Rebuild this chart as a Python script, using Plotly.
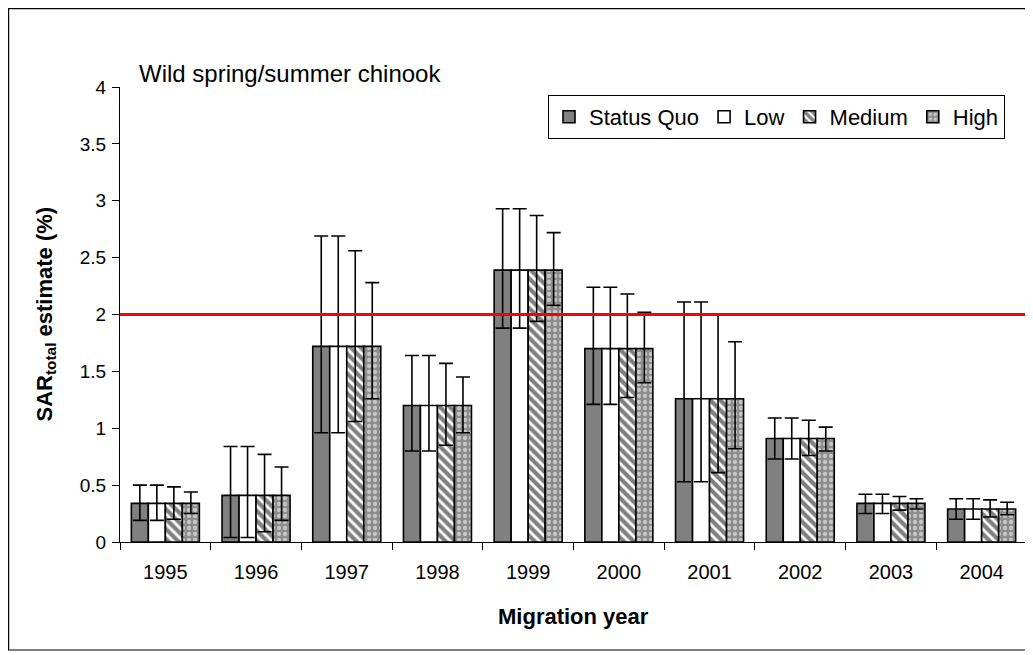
import plotly.graph_objects as go

years = ["1995", "1996", "1997", "1998", "1999", "2000", "2001", "2002", "2003", "2004"]
sar = [0.34, 0.41, 1.72, 1.20, 2.39, 1.70, 1.26, 0.91, 0.34, 0.29]

# upper / lower limits of the error bars, one pair per scenario
sq_hi = [0.50, 0.84, 2.69, 1.64, 2.93, 2.24, 2.11, 1.09, 0.42, 0.38]
sq_lo = [0.19, 0.04, 0.96, 0.80, 1.88, 1.21, 0.53, 0.73, 0.25, 0.20]
low_hi = [0.50, 0.84, 2.69, 1.64, 2.93, 2.24, 2.11, 1.09, 0.42, 0.38]
low_lo = [0.19, 0.04, 0.96, 0.80, 1.88, 1.21, 0.53, 0.73, 0.25, 0.20]
med_hi = [0.485, 0.77, 2.56, 1.57, 2.87, 2.18, 2.00, 1.07, 0.40, 0.37]
med_lo = [0.20, 0.09, 1.06, 0.85, 1.94, 1.27, 0.61, 0.76, 0.28, 0.22]
high_hi = [0.44, 0.66, 2.28, 1.45, 2.72, 2.02, 1.76, 1.01, 0.38, 0.35]
high_lo = [0.25, 0.19, 1.26, 0.96, 2.08, 1.40, 0.82, 0.80, 0.29, 0.24]

target = 2.0
FONT = "Liberation Sans, Arial, sans-serif"

# page body adds an 8px offset, so the figure is drawn 8px smaller
W, H = 1025, 647
L, R, T, B = 112, 6, 79, 113
PW, PH = W - L - R, H - T - B


def px(x):
    # screen x (page) -> paper
    return (x - 8 - L) / PW


def py(y):
    # screen y (page) -> paper
    return (H - B - (y - 8)) / PH


series = [
    ("Status Quo", sq_hi, sq_lo, dict(color="#808080")),
    ("Low", low_hi, low_lo, dict(color="white")),
    ("Medium", med_hi, med_lo,
     dict(color="white", pattern=dict(shape="\\", fgcolor="black", bgcolor="white",
                                      size=7, solidity=0.6))),
    ("High", high_hi, high_lo,
     dict(color="#8c8c8c", pattern=dict(shape=".", fgcolor="white", bgcolor="#8c8c8c",
                                        size=6, solidity=0.4))),
]

fig = go.Figure()
for name, hi, lo, marker in series:
    marker = dict(marker, line=dict(color="black", width=1.6))
    fig.add_trace(go.Bar(
        name=name,
        x=years,
        y=sar,
        marker=marker,
        error_y=dict(
            type="data",
            symmetric=False,
            array=[h - v for h, v in zip(hi, sar)],
            arrayminus=[v - l for v, l in zip(sar, lo)],
            color="black",
            thickness=1.6,
            width=7,
        ),
    ))

fig.add_shape(type="line", xref="paper", yref="y", x0=0, x1=1.003, y0=target, y1=target,
              line=dict(color="#ff0000", width=3))

# outer chart border
fig.add_shape(type="rect", xref="paper", yref="paper",
              x0=px(8.6), x1=px(1031), y0=py(650), y1=py(8.6),
              line=dict(color="black", width=1.2))

fig.add_annotation(text="Wild spring/summer chinook", xref="paper", yref="paper",
                   x=px(137), y=py(73), xanchor="left", yanchor="middle",
                   showarrow=False, font=dict(family=FONT, size=24, color="black"))

fig.add_annotation(text="<b>Migration year</b>", xref="paper", yref="paper",
                   x=0.5, y=py(616), xanchor="center", yanchor="middle",
                   showarrow=False, font=dict(family=FONT, size=22, color="black"))

fig.add_annotation(text="<b>SAR<sub>total</sub> estimate (%)</b>", xref="paper", yref="paper",
                   x=px(45), y=0.5, xanchor="center", yanchor="middle", textangle=-90,
                   showarrow=False, font=dict(family=FONT, size=22, color="black"))

fig.update_layout(
    width=W,
    height=H,
    margin=dict(l=L, r=R, t=T, b=B),
    paper_bgcolor="white",
    plot_bgcolor="white",
    font=dict(family=FONT, color="black"),
    barmode="group",
    bargap=0.25,
    bargroupgap=0,
    showlegend=True,
    legend=dict(
        orientation="h",
        x=px(1005), xanchor="right",
        y=py(95), yanchor="top",
        bordercolor="black", borderwidth=1,
        bgcolor="white",
        font=dict(family=FONT, size=22),
        itemwidth=30,
    ),
    xaxis=dict(
        type="category",
        showline=True, linecolor="black", linewidth=1,
        ticks="outside", ticklen=7, tickcolor="black",
        tickson="boundaries",
        tickfont=dict(family=FONT, size=20),
        ticklabelstandoff=12,
        showgrid=False,
    ),
    yaxis=dict(
        range=[0, 4], dtick=0.5,
        showline=True, linecolor="black", linewidth=1,
        ticks="outside", ticklen=7, tickcolor="black",
        tickfont=dict(family=FONT, size=19),
        ticklabelstandoff=2,
        showgrid=False, zeroline=False,
    ),
)

fig.write_html("out.html")
